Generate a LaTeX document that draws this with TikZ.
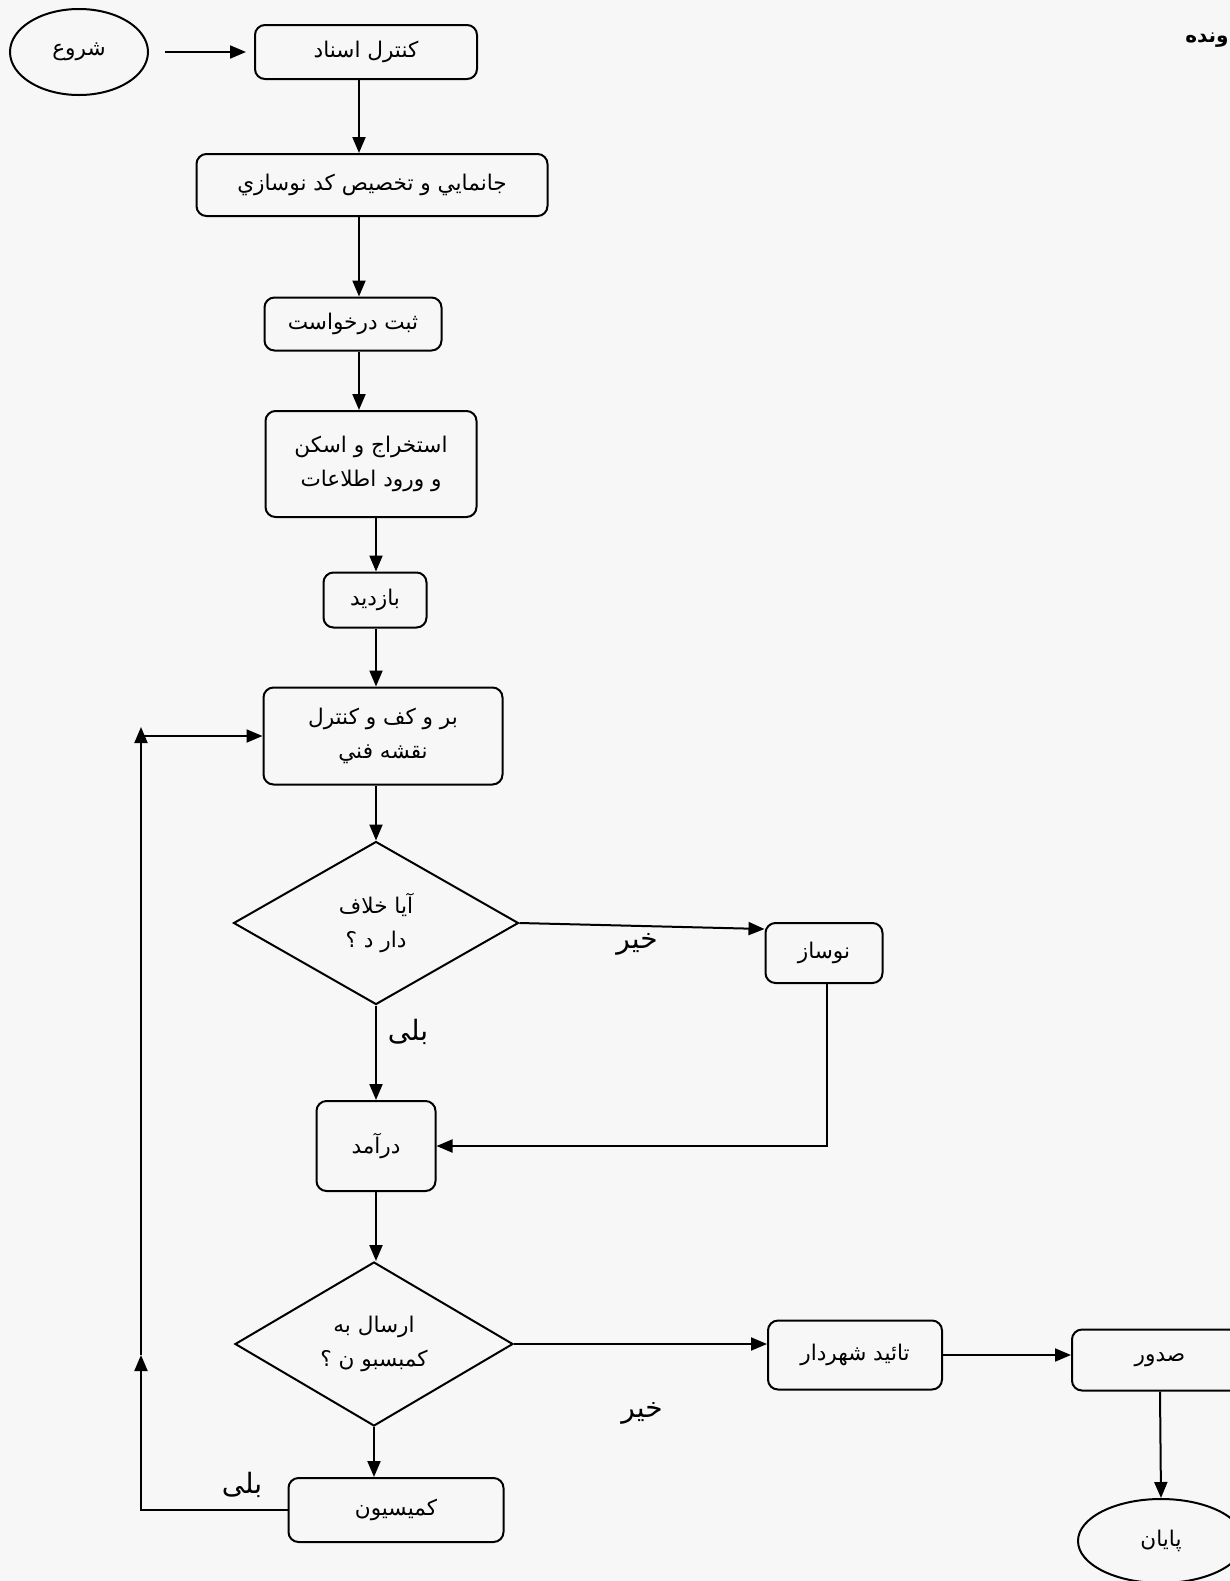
\documentclass[tikz,border=0pt]{standalone}
\usepackage{fontspec}
\newfontfamily\arabicfont[Script=Arabic]{DejaVu Sans}
\TeXXeTstate=1
\usetikzlibrary{shapes.geometric,arrows.meta}
\newcommand{\rtl}[1]{\beginR #1\endR}
\tikzset{
  every node/.style={font=\arabicfont\fontsize{10.8}{17}\selectfont, inner sep=0pt, align=center},
  procbox/.style={draw, line width=1pt, rounded corners=5pt, rectangle},
  decbox/.style={draw, line width=1pt, diamond, aspect=1.75},
  termbox/.style={draw, line width=1pt, ellipse},
  lbl/.style={font=\arabicfont\fontsize{14}{16}\selectfont},
  arr/.style={line width=1pt, -{Triangle[length=8pt,width=6.5pt]}},
}
\begin{document}
\begin{tikzpicture}[x=0.5pt,y=-0.5pt]
\useasboundingbox (0,0) rectangle (1230,1581);
\clip (0,0) rectangle (1230,1581);
\fill[gray!6] (0,0) rectangle (1230,1581);

% nodes
\node[termbox, minimum width=69pt, minimum height=43pt] (start) at (79,52) {\rtl{شروع}};
\node[procbox, minimum width=111pt, minimum height=27pt] (kontrol) at (366,52) {\rtl{کنترل اسناد}};
\node[procbox, minimum width=175.5pt, minimum height=31pt] (jana) at (372,185) {\rtl{جانمايي و تخصيص کد نوسازي}};
\node[procbox, minimum width=88.5pt, minimum height=26.5pt] (sabt) at (353,324) {\rtl{ثبت درخواست}};
\node[procbox, minimum width=105.5pt, minimum height=53pt] (estekh) at (371,464) {\rtl{استخراج و اسکن}\\\rtl{و ورود اطلاعات}};
\node[procbox, minimum width=51.5pt, minimum height=27.5pt] (bazdid) at (375,600) {\rtl{بازدید}};
\node[procbox, minimum width=119.5pt, minimum height=48.5pt] (barokaf) at (383,736) {\rtl{بر و کف و کنترل}\\\rtl{نقشه فني}};
\node[decbox, minimum width=142.5pt, minimum height=81.5pt] (d1) at (376,923) {\rtl{آیا خلاف}\\\rtl{دار د ؟}};
\node[procbox, minimum width=58.5pt, minimum height=30pt] (nowsaz) at (824,953) {\rtl{نوساز}};
\node[procbox, minimum width=59.5pt, minimum height=45pt] (daramad) at (376,1146) {\rtl{درآمد}};
\node[decbox, minimum width=139pt, minimum height=82pt] (d2) at (374,1344) {\rtl{ارسال به}\\\rtl{کمبسبو ن ؟}};
\node[procbox, minimum width=87pt, minimum height=34.5pt] (taid) at (855,1355) {\rtl{تائید شهردار}};
\node[procbox, minimum width=88pt, minimum height=30.5pt] (sodur) at (1160,1360) {\rtl{صدور}};
\node[termbox, minimum width=83pt, minimum height=42pt] (payan) at (1161,1541) {\rtl{پایان}};
\node[procbox, minimum width=107.5pt, minimum height=32pt] (komision) at (396,1510) {\rtl{کمیسیون}};

% labels
\node[lbl] (khir1) at (637,944) {\rtl{خیر}};
\node[lbl] (bali1) at (408,1032) {\rtl{بلی}};
\node[lbl] (khir2) at (642,1413) {\rtl{خیر}};
\node[lbl] (bali2) at (242,1485) {\rtl{بلی}};
\node[font=\arabicfont\bfseries\fontsize{10}{12}\selectfont, anchor=east] (parvande) at (1229,40) {\rtl{ونده}};

% column coordinates
\coordinate (colA) at (359,0);
\coordinate (colB) at (376,0);
\coordinate (colC) at (827,0);
\coordinate (fbT) at (141,727);
\coordinate (fbM) at (141,1355);

% connectors
\draw[arr, shorten <=8pt, shorten >=4pt] (start.east) -- (kontrol.west);
\draw[arr] (kontrol.south -| colA) -- (jana.north -| colA);
\draw[arr] (jana.south -| colA) -- (sabt.north -| colA);
\draw[arr] (sabt.south -| colA) -- (estekh.north -| colA);
\draw[arr] (estekh.south -| colB) -- (bazdid.north -| colB);
\draw[arr] (bazdid.south -| colB) -- (barokaf.north -| colB);
\draw[arr] (barokaf.south -| colB) -- (d1.north);
\draw[arr] (d1.east) -- ([yshift=12pt]nowsaz.west);
\draw[arr] (d1.south) -- (d1.south |- daramad.north);
\draw[arr] (nowsaz.south -| colC) |- (daramad.east);
\draw[arr] (daramad.south) -- (daramad.south |- d2.north);
\draw[arr] (d2.east) -- (d2.east -| taid.west);
\draw[arr] (taid.east) -- (taid.east -| sodur.west);
\draw[arr] (sodur.south) -- (payan.north);
\draw[arr] (d2.south) -- (d2.south |- komision.north);
\draw[arr] (komision.west) -| (fbM);
\draw[arr] (fbM) -- (fbT);
\draw[arr] (fbT |- barokaf.west) -- (barokaf.west);
\end{tikzpicture}
\end{document}
